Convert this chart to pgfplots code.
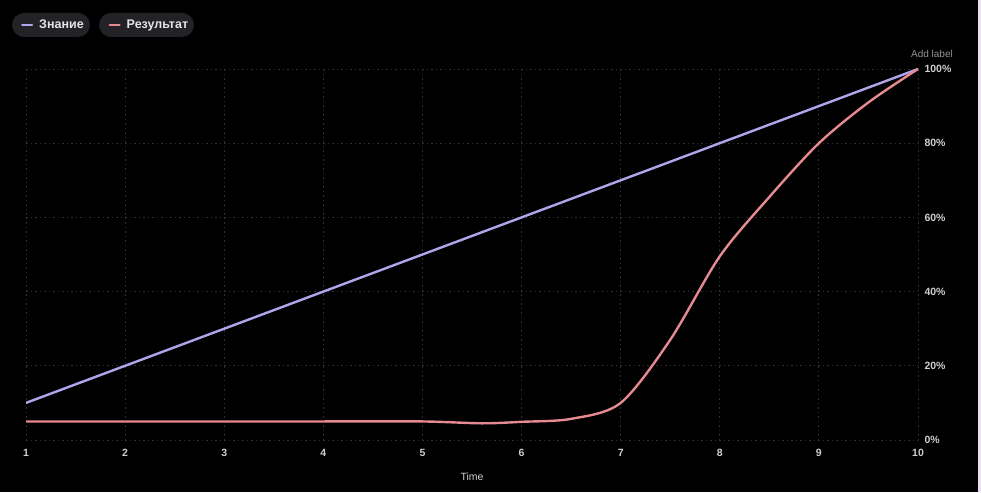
\documentclass[border=0pt]{standalone}
\usepackage{fontspec}
\setmainfont{Liberation Sans}
\usepackage{pgfplots}
\pgfplotsset{compat=1.18}
\definecolor{know}{HTML}{B0A4EA}
\definecolor{res}{HTML}{E58A90}
\definecolor{gridc}{HTML}{303030}
\definecolor{tickc}{HTML}{CFCFCF}
\definecolor{pill}{HTML}{232327}
\definecolor{edge}{HTML}{E8E0F2}
\begin{document}
\begin{tikzpicture}[x=1pt,y=1pt]
\fill[black] (0,0) rectangle (981,492);
\fill[edge] (977.5,0) rectangle (981,492);
\fill[pill, rounded corners=12pt] (12,455) rectangle (90,479);
\fill[pill, rounded corners=12pt] (99,455) rectangle (194,479);
\node[anchor=south east, text=gray!85, font=\fontsize{10}{12}\selectfont, inner sep=0pt] at (953,434) {Add label};
\begin{axis}[
  at={(26pt,52pt)}, anchor=south west,
  scale only axis, width=892pt, height=371pt,
  xmin=1, xmax=10, ymin=0, ymax=100,
  axis line style={draw=none},
  tick style={draw=none},
  grid=major,
  grid style={gridc, dash pattern=on 1.5pt off 3pt, line width=0.9pt},
  xtick={1,...,10},
  ytick={0,20,...,100},
  /pgf/number format/assume math mode=true,
  yticklabel pos=right,
  yticklabel={\pgfmathprintnumber{\tick}\%},
  y tick label style={anchor=west, xshift=3pt, text=tickc, font=\fontsize{10.5}{12}\selectfont\bfseries},
  x tick label style={text=tickc, yshift=-6pt, font=\fontsize{10.5}{12}\selectfont\bfseries},
  xlabel={Time},
  xlabel style={at={(axis description cs:0.5,0)}, anchor=center, yshift=-37pt, text=tickc, font=\fontsize{10.5}{12}\selectfont},
  legend columns=2,
  legend style={at={(-0.0056,1.1186)}, anchor=west, draw=none, fill=none, inner sep=0pt,
    nodes={inner sep=0pt, text=white!90!black, font=\fontsize{12.5}{14}\selectfont\bfseries},
    /tikz/every odd column/.append style={column sep=6pt},
    /tikz/every even column/.append style={column sep=25pt}},
  legend image code/.code={\draw[#1, line width=2pt, line cap=round] (0pt,0pt) -- (10pt,0pt);},
]
\addplot[know, line width=2.4pt, line cap=round] coordinates {(1,10) (10,100)};
\addlegendentry{Знание}
\addplot[res, line width=2.4pt, line cap=round, smooth] coordinates {
(1,5) (2,5) (3,5) (4,5) (5,5) (5.6,4.5) (6,4.9) (6.5,5.7) (7,10) (7.5,27) (8,49.5) (8.5,65.5) (9,80) (9.5,91) (10,100)};
\addlegendentry{Результат}
\end{axis}
\end{tikzpicture}
\end{document}
